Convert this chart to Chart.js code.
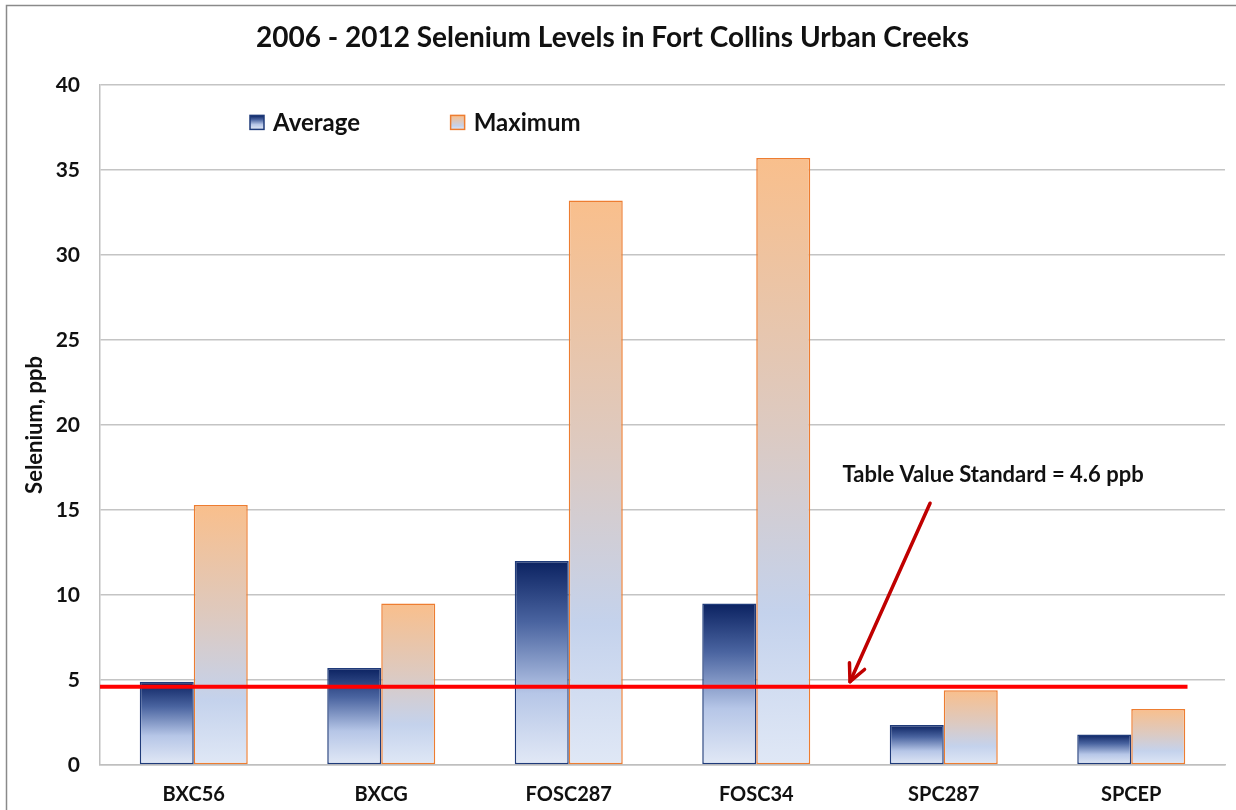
<!DOCTYPE html>
<html>
<head>
<meta charset="utf-8">
<script src="https://cdn.jsdelivr.net/npm/chart.js@4/dist/chart.umd.min.js"></script>
<style>
  html, body { margin: 0; padding: 0; background: #ffffff; }
  #wrap { position: relative; width: 1236px; height: 810px; }
</style>
</head>
<body>
<div id="wrap"><canvas id="chart" width="1236" height="810"></canvas></div>
<script>
// Sampling sites
const sites = ['BXC56', 'BXCG', 'FOSC287', 'FOSC34', 'SPC287', 'SPCEP'];
// Selenium concentration, ppb
const averageSe = [4.9, 5.7, 12.0, 9.5, 2.35, 1.8];
const maximumSe = [15.3, 9.5, 33.2, 35.7, 4.4, 3.3];
// Table value standard, ppb
const standardSe = 4.6;
const standardLabel = 'Table Value Standard = 4.6 ppb';
const yTicks = [0, 5, 10, 15, 20, 25, 30, 35, 40];

const FONT = 'Lato, "Open Sans", sans-serif';

const avgStops = [[0, '#0b2261'], [0.3, '#4a64a0'], [0.65, '#b6c6e7'], [1, '#e2e9f6']];
const maxStops = [[0, '#f9bf8c'], [0.45, '#dccac2'], [0.75, '#c4d2ec'], [1, '#e0e8f6']];

function barGradient(stops) {
  return function (ctx) {
    const chart = ctx.chart;
    const area = chart.chartArea;
    if (!area || ctx.type !== 'data') return stops[1][1];
    const y = chart.scales.y;
    const top = y.getPixelForValue(ctx.raw);
    const bottom = y.getPixelForValue(0);
    const g = chart.ctx.createLinearGradient(0, top, 0, bottom);
    stops.forEach(s => g.addColorStop(s[0], s[1]));
    return g;
  };
}

// Page frame around the whole figure
const framePlugin = {
  id: 'frame',
  beforeDraw(chart) {
    const c = chart.ctx;
    c.save();
    c.strokeStyle = '#8a8a8a';
    c.lineWidth = 1.5;
    c.strokeRect(6.5, 5.5, chart.width, chart.height);
    c.restore();
  }
};

// Legend placed inside the plot area
const legendPlugin = {
  id: 'innerLegend',
  afterDraw(chart) {
    const c = chart.ctx;
    const y = chart.scales.y.getPixelForValue(37.8);
    const items = [
      { x: chart.scales.x.getPixelForValue(0.3), ds: chart.data.datasets[0], stops: avgStops },
      { x: chart.scales.x.getPixelForValue(1.37), ds: chart.data.datasets[1], stops: maxStops }
    ];
    c.save();
    c.font = 'bold 24px ' + FONT;
    c.textBaseline = 'middle';
    items.forEach(it => {
      const g = c.createLinearGradient(0, y - 7, 0, y + 7);
      it.stops.forEach(s => g.addColorStop(s[0], s[1]));
      c.fillStyle = g;
      c.fillRect(it.x, y - 7, 14, 14);
      c.strokeStyle = it.ds.borderColor;
      c.lineWidth = 1.5;
      c.strokeRect(it.x, y - 7, 14, 14);
      c.fillStyle = '#111111';
      c.fillText(it.ds.label, it.x + 23, y + 1);
    });
    c.restore();
  }
};

// Standard line with its callout arrow and label
const standardPlugin = {
  id: 'standard',
  afterDatasetsDraw(chart) {
    const c = chart.ctx;
    const xs = chart.scales.x, ys = chart.scales.y;
    const area = chart.chartArea;
    const yLine = ys.getPixelForValue(standardSe);
    c.save();
    c.strokeStyle = '#ff0000';
    c.lineWidth = 4;
    c.beginPath();
    c.moveTo(area.left, yLine);
    c.lineTo(xs.getPixelForValue(5.3), yLine);
    c.stroke();

    // arrow
    const x0 = xs.getPixelForValue(3.927), y0 = ys.getPixelForValue(15.4);
    const x1 = xs.getPixelForValue(3.5), y1 = ys.getPixelForValue(4.9);
    c.strokeStyle = '#c00000';
    c.lineWidth = 3.5;
    c.lineCap = 'round';
    c.lineJoin = 'round';
    c.beginPath();
    c.moveTo(x0, y0);
    c.lineTo(x1, y1);
    c.stroke();
    const ang = Math.atan2(y1 - y0, x1 - x0);
    const len = 19, spread = 0.45;
    c.beginPath();
    c.moveTo(x1 - len * Math.cos(ang - spread), y1 - len * Math.sin(ang - spread));
    c.lineTo(x1, y1);
    c.lineTo(x1 - len * Math.cos(ang + spread), y1 - len * Math.sin(ang + spread));
    c.stroke();

    c.fillStyle = '#111111';
    c.font = 'bold 22px ' + FONT;
    c.textBaseline = 'middle';
    c.textAlign = 'left';
    c.fillText(standardLabel, xs.getPixelForValue(3.46), ys.getPixelForValue(17.06));
    c.restore();
  }
};

new Chart(document.getElementById('chart'), {
  type: 'bar',
  data: {
    labels: sites,
    datasets: [
      {
        label: 'Average',
        data: averageSe,
        backgroundColor: barGradient(avgStops),
        borderColor: '#1f3b7a',
        borderWidth: 1.5,
        borderSkipped: false
      },
      {
        label: 'Maximum',
        data: maximumSe,
        backgroundColor: barGradient(maxStops),
        borderColor: '#ed7d31',
        borderWidth: 1.5,
        borderSkipped: false
      }
    ]
  },
  options: {
    responsive: false,
    animation: false,
    layout: { padding: { left: 0, right: 11, top: 0, bottom: 0 } },
    datasets: { bar: { categoryPercentage: 0.576, barPercentage: 1.0 } },
    plugins: {
      legend: { display: false },
      tooltip: { enabled: false },
      title: {
        display: true,
        text: '2006 - 2012 Selenium Levels in Fort Collins Urban Creeks',
        color: '#111111',
        font: { family: FONT, size: 28, weight: 'bold' },
        padding: { top: 21, bottom: 30.4 }
      }
    },
    scales: {
      x: {
        grid: { display: false, drawTicks: false },
        border: { display: true, color: '#bfbfbf', width: 1.5 },
        ticks: { color: '#111111', font: { family: FONT, size: 20, weight: 'bold' }, padding: 18 },
        afterFit(s) { s.height = 45; }
      },
      y: {
        min: 0,
        max: 40,
        afterBuildTicks(s) { s.ticks = yTicks.map(v => ({ value: v })); },
        grid: { color: '#c4c4c4', lineWidth: 1.5, drawTicks: false },
        border: { display: true, color: '#bfbfbf', width: 1.5 },
        ticks: { color: '#111111', font: { family: FONT, size: 21, weight: 'bold' }, padding: 20 },
        title: {
          display: true,
          text: 'Selenium, ppb',
          color: '#111111',
          font: { family: FONT, size: 22, weight: 'bold' },
          padding: { top: 22, bottom: 0 }
        },
        afterFit(s) { s.width = 100; }
      }
    }
  },
  plugins: [framePlugin, legendPlugin, standardPlugin]
});
</script>
</body>
</html>
